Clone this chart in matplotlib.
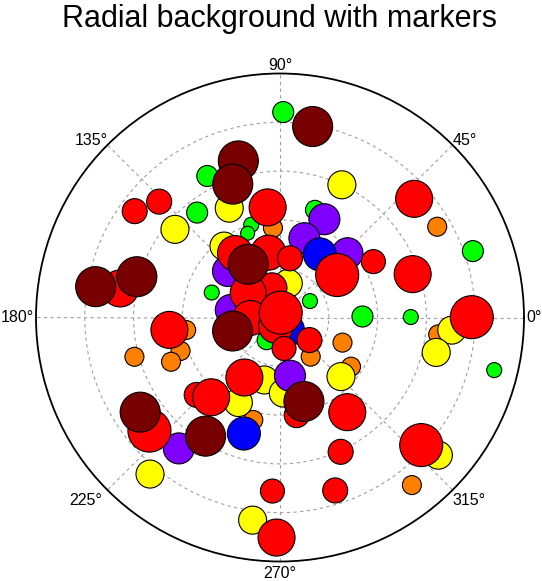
import numpy as np
import matplotlib
matplotlib.use("Agg")
import matplotlib.pyplot as plt

plt.rcParams['font.family'] = ['Liberation Sans', 'DejaVu Sans']

# ---------------- data (theta in degrees, r in data units, marker diameter) ----
title = "Radial background with markers"
r_max = 5.0
ring_values = [1, 2, 3, 4]
angle_ticks = [0, 45, 90, 135, 180, 225, 270, 315]
angle_labels = ["0°", "45°", "90°", "135°", "180°", "225°", "270°", "315°"]

group_names = ["green", "orange", "yellow", "purple", "blue", "red", "darkred"]
group_colors = ["#00FF00", "#FF8000", "#FFFF00", "#8000FF", "#0000FF", "#FF0000", "#780000"]

green_theta = [89.1, 117.2, 128.3, 107.2, 111.0, 159.9, 72.0, 19.0, 28.8, 0.7, 0.2, 346.2, 239.4]
green_r = [4.21, 3.26, 2.74, 1.99, 1.85, 1.49, 2.32, 4.18, 0.70, 1.69, 2.68, 4.52, 0.54]
green_d = [21, 21, 21, 15, 14, 15, 19, 21, 15, 21, 15, 15, 19]

orange_theta = [30.0, 94.5, 187.6, 198.6, 202.1, 195.1, 308.1, 338.1, 325.3, 353.9, 255.4, 308.2]
orange_r = [3.72, 1.84, 1.94, 2.15, 2.41, 3.09, 1.02, 1.38, 1.77, 3.26, 2.17, 4.37]
orange_d = [19] * 12

yellow_theta = [65.0, 114.9, 140.0, 128.1, 76.4, 355.8, 347.4, 315.9, 255.9, 243.9, 272.5, 319.0, 230.3, 262.3]
yellow_r = [3.00, 2.47, 2.81, 1.86, 0.72, 3.53, 3.28, 1.74, 1.32, 1.94, 1.55, 4.30, 4.17, 4.19]
yellow_d = [28] * 14

purple_theta = [65.7, 72.9, 43.6, 138.2, 171.3, 279.7, 232.3]
purple_r = [2.21, 1.70, 1.91, 1.43, 1.02, 1.21, 3.39]
purple_d = [31] * 7

blue_theta = [57.7, 252.7, 302.6]
blue_r = [1.53, 2.49, 0.30]
blue_d = [33] * 3

red_theta = [105.2, 136.2, 143.8, 96.4, 124.9, 100.2, 80.4, 41.5, 30.9, 36.6, 18.1, 0.1,
             169.7, 142.6, 181.0, 244.8, 81.7, 186.4, 322.5, 277.4, 239.3, 222.9, 229.2,
             279.7, 305.4, 220.9, 294.3, 317.9, 267.5, 287.7, 269.1]
red_r = [0.63, 3.43, 3.69, 2.27, 1.61, 1.35, 1.23, 3.67, 2.23, 1.46, 2.86, 3.93,
         3.33, 0.82, 0.61, 0.19, 0.10, 2.28, 0.76, 0.64, 1.43, 2.33, 2.16,
         2.03, 2.38, 3.54, 3.02, 3.90, 3.56, 3.72, 4.51]
red_d = [30, 25, 25, 37, 35, 35, 25, 37, 24, 43, 37, 43,
         37, 36, 35, 35, 43, 37, 25, 24, 37, 25, 37,
         25, 37, 43, 25, 43, 24, 25, 37]

darkred_theta = [80.3, 104.9, 109.5, 120.8, 170.5, 164.1, 195.9, 285.9, 214.1, 237.9]
darkred_r = [3.97, 3.32, 2.90, 1.27, 3.83, 3.05, 1.01, 1.79, 3.46, 2.87]
darkred_d = [40] * 10

groups = [
    (green_theta, green_r, green_d),
    (orange_theta, orange_r, orange_d),
    (yellow_theta, yellow_r, yellow_d),
    (purple_theta, purple_r, purple_d),
    (blue_theta, blue_r, blue_d),
    (red_theta, red_r, red_d),
    (darkred_theta, darkred_r, darkred_d),
]

# ---------------- figure -------------------------------------------------------
W, H, DPI = 542, 581, 100
fig = plt.figure(figsize=(W / DPI, H / DPI), dpi=DPI)
cx, cy, R = 280, 317.5, 244
ax = fig.add_axes([(cx - R) / W, (H - cy - R) / H, 2 * R / W, 2 * R / H], polar=True)
ax.set_ylim(0, r_max)
ax.set_yticks(ring_values)
ax.set_yticklabels([])
ax.set_xticks(np.deg2rad(angle_ticks))
ax.set_xticklabels([])
ax.grid(True, color="#a0a0a0", linestyle=(0, (3, 3)), linewidth=0.8)
ax.spines["polar"].set_linewidth(1.3)
ax.spines["polar"].set_color("black")
ax.tick_params(length=0)
ax.set_axisbelow(True)

px2pt = 72.0 / DPI
for (th, rr, dd), col in zip(groups, group_colors):
    ax.scatter(np.deg2rad(th), rr, s=(np.array(dd) * px2pt) ** 2, c=col,
               edgecolors="black", linewidths=0.8, zorder=3, clip_on=False)

# angle labels placed just outside the circle
label_style = {
    0: ("left", "center", 2, 0),
    45: ("left", "baseline", 0, 0),
    90: ("center", "baseline", 0, 3),
    135: ("right", "baseline", 0, 0),
    180: ("right", "center", -2, 0),
    225: ("right", "top", -5, -3),
    270: ("center", "top", 0, -4),
    315: ("left", "top", 0, -3),
}
for ang, lab in zip(angle_ticks, angle_labels):
    ha, va, dx, dy = label_style[ang]
    ax.annotate(lab, xy=(np.deg2rad(ang), r_max), xytext=(dx * px2pt, dy * px2pt),
                textcoords="offset points", ha=ha, va=va, fontsize=11.5,
                annotation_clip=False)

fig.text(cx / W, 1 - 27 / H, title, ha="center", va="baseline", fontsize=22)

fig.savefig("out.png", dpi=DPI)
